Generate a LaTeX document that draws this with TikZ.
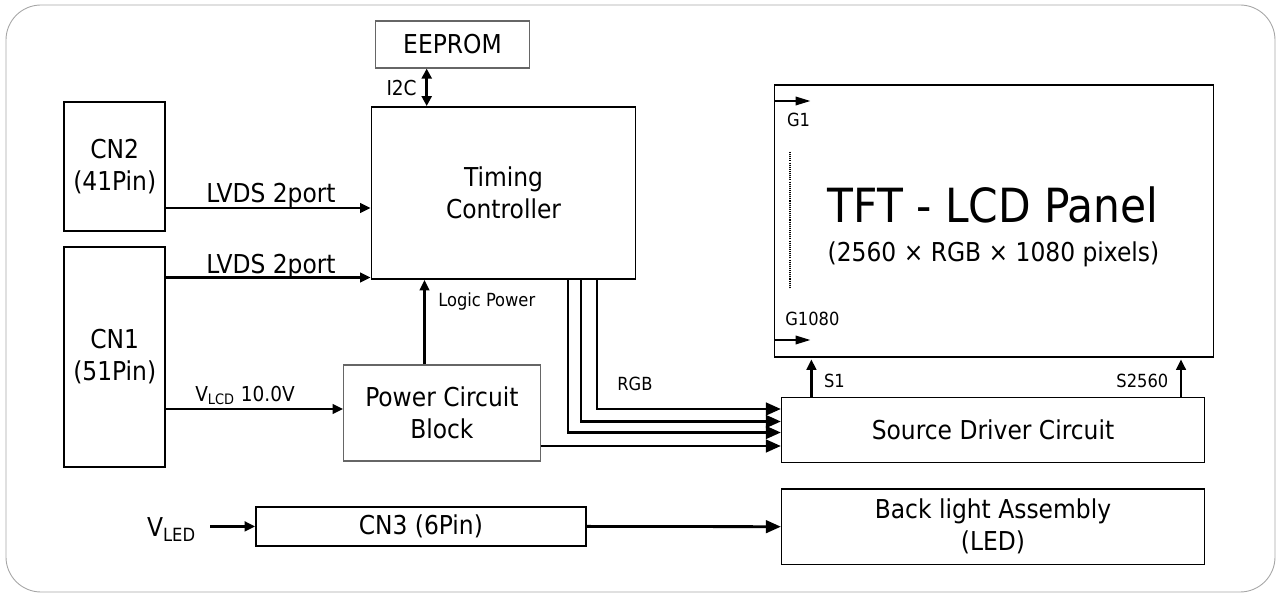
\documentclass[tikz,border=0pt]{standalone}
\usepackage{fontspec}
\setmainfont{DejaVu Sans Condensed}
\usetikzlibrary{arrows.meta,positioning,calc}

\begin{document}
\begin{tikzpicture}[
  x=0.02cm, y=-0.02cm,
  font=\fontsize{14.8}{18.2}\selectfont,
  blk/.style={draw, line width=1.1pt, align=center, inner sep=0pt},
  thinblk/.style={blk, line width=0.7pt},
  softblk/.style={blk, draw=black!60, line width=0.7pt},
  txt/.style={inner sep=0pt},
  lbl/.style={inner sep=0pt, font=\fontsize{10.3}{12}\selectfont},
  midlbl/.style={inner sep=0pt, font=\fontsize{11.7}{14}\selectfont},
  sig/.style={-{Triangle[length=0.21cm, width=0.19cm]}, line width=1.6pt},
  dblsig/.style={{Triangle[length=0.2cm, width=0.2cm]}-{Triangle[length=0.2cm, width=0.2cm]}, line width=1.4pt},
  bus/.style={-{Triangle[length=0.3cm, width=0.25cm]}, line width=1.6pt},
  gate/.style={-{Triangle[length=0.3cm, width=0.17cm]}, line width=1.2pt},
  frame/.style={draw=gray!70, line width=0.5pt, rounded corners=0.7cm}
]
\useasboundingbox (0,0) rectangle (1279,594);
\draw[frame] (6,5) rectangle (1275,592);

% blocks
\node[softblk, minimum width=3.08cm, minimum height=0.94cm] (eeprom) at (452.5,44.5) {EEPROM};
\node[blk, minimum width=5.28cm, minimum height=3.44cm] (tcon) at (503.5,193) {Timing\\Controller};
\node[blk, minimum width=2.03cm, minimum height=2.58cm] (cntwo) at (114.7,166.5) {CN2\\(41Pin)};
\node[blk, minimum width=2.03cm, minimum height=4.4cm] (cnone) at (114.7,357) {CN1\\(51Pin)};
\node[softblk, minimum width=3.93cm, minimum height=1.92cm] (power) at (441.9,413) {Power Circuit\\Block};
\node[blk, minimum width=6.59cm, minimum height=0.79cm] (cnthree) at (420.9,526.4) {CN3 (6Pin)};
\node[thinblk, minimum width=8.78cm, minimum height=5.44cm] (panel) at (994.1,221) {};
\node[thinblk, minimum width=8.46cm, minimum height=1.3cm] (source) at (993,429.8) {Source Driver Circuit};
\node[thinblk, minimum width=8.46cm, minimum height=1.51cm] (backlight) at (993,526.7) {Back light Assembly\\(LED)};

% panel text
\node[txt, anchor=base, font=\fontsize{26.8}{30}\selectfont] (paneltitle) at (993,223) {TFT - LCD Panel};
\node[txt, anchor=base] (panelsub) at (993.5,262) {(2560 × RGB × 1080 pixels)};

% I2C
\coordinate (iicx) at (426.7,0);
\draw[dblsig] (eeprom.south -| iicx) -- (tcon.north -| iicx);
\node[midlbl, anchor=base east] (iiclbl) at (417,96) {I2C};

% LVDS inputs
\coordinate (lvdsa) at (0,208);
\coordinate (lvdsb) at (0,277.5);
\draw[sig] (cntwo.east |- lvdsa) -- (tcon.west |- lvdsa);
\draw[sig] (cnone.east |- lvdsb) -- (tcon.west |- lvdsb);
\node[txt, anchor=base] (lvdsalbl) at (271,203) {LVDS 2port};
\node[txt, anchor=base] (lvdsblbl) at (271,274) {LVDS 2port};

% power
\coordinate (lpx) at (424.5,0);
\draw[sig] (power.north -| lpx) -- (tcon.south -| lpx);
\node[lbl, anchor=base west] (lplbl) at (438,307) {Logic Power};
\coordinate (vlcdy) at (0,409);
\draw[sig] (cnone.east |- vlcdy) -- (power.west |- vlcdy);
\node[midlbl, anchor=base west] (vlcdlbl) at (195,401.5) {V\textsubscript{LCD} 10.0V};

% RGB bus
\coordinate (rgba) at (568,432.5);
\coordinate (rgbb) at (581,421.5);
\coordinate (rgbc) at (597,409);
\coordinate (pwrout) at (0,446);
\foreach \c in {rgba,rgbb,rgbc}
  \draw[bus] (tcon.south -| \c) |- (source.west |- \c);
\draw[bus] (power.east |- pwrout) -- (source.west |- pwrout);
\node[lbl, anchor=base west] (rgblbl) at (617,391) {RGB};

% gate lines
\coordinate (gonetip) at (810.5,101);
\coordinate (gendtip) at (810.5,340);
\draw[gate] (panel.west |- gonetip) -- (gonetip);
\draw[gate] (panel.west |- gendtip) -- (gendtip);
\node[lbl, anchor=base west] (gonelbl) at (786.7,126.7) {G1};
\node[lbl, anchor=base west] (gendlbl) at (785,326) {G1080};
\draw[line width=1pt, dash pattern=on 0.6pt off 0.6pt] (789.8,152) -- (789.8,287);

% source lines
\coordinate (sonex) at (811.4,0);
\coordinate (sendx) at (1181,0);
\draw[sig, shorten >=1pt] (source.north -| sonex) -- (panel.south -| sonex);
\draw[sig, shorten >=1pt] (source.north -| sendx) -- (panel.south -| sendx);
\node[lbl, anchor=base west] (sonelbl) at (823.7,388) {S1};
\node[lbl, anchor=base east] (sendlbl) at (1168.6,388) {S2560};

% backlight
\node[txt, anchor=base west] (vled) at (146.7,537) {V\textsubscript{LED}};
\coordinate (vledtail) at (210,526.4);
\draw[sig] (vledtail) -- (cnthree.west);
\draw[bus] (cnthree.east) -- (backlight.west);
\end{tikzpicture}
\end{document}
